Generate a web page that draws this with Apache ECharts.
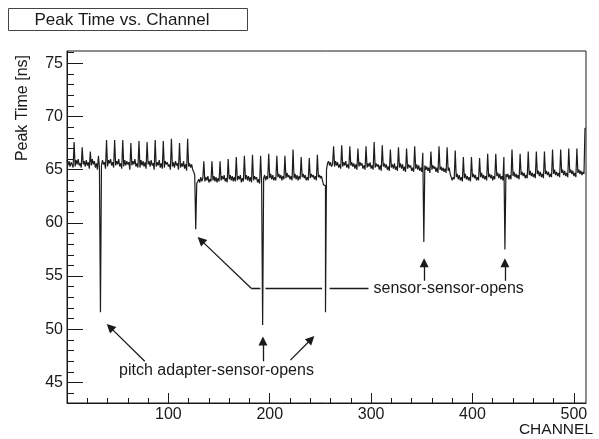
<!DOCTYPE html>
<html><head><meta charset="utf-8">
<script src="https://cdn.jsdelivr.net/npm/echarts@6/dist/echarts.min.js"></script>
<style>html,body{margin:0;padding:0;background:#fff}#c{width:599px;height:439px}</style>
</head><body><div id="c"></div>
<script>
// Peak time [ns] per channel, channels 0..511 (8 per row)
const peakTime = [
65.9,65.4,65.8,65.3,65.7,65.5,65.2,67.6,
65.3,65.9,65.5,66.0,65.4,65.6,65.2,67.1,
65.5,65.8,65.3,65.9,65.4,65.7,65.1,66.7,
65.4,66.0,65.5,65.8,65.2,65.6,65.0,66.3,
65.2,51.6,65.4,65.9,65.5,65.7,65.1,67.8,
65.3,65.9,65.6,66.0,65.4,65.7,65.2,67.8,
65.4,65.8,65.5,66.0,65.3,65.6,65.1,67.8,
65.3,65.9,65.4,65.8,65.5,65.7,65.0,67.5,
65.4,65.8,65.5,66.0,65.3,65.6,65.2,67.7,
65.2,65.9,65.4,65.8,65.3,65.7,65.1,67.6,
65.5,65.8,65.3,65.9,65.4,65.6,65.0,67.8,
65.3,65.7,65.4,65.9,65.2,65.6,65.1,67.7,
65.2,65.8,65.5,65.7,65.3,65.5,65.0,67.9,
65.3,65.7,65.2,65.8,65.4,65.6,65.0,67.5,
65.2,65.6,65.3,65.8,65.1,65.5,64.9,67.9,
65.3,65.6,65.2,65.5,65.0,64.8,64.5,59.4,
63.7,63.9,64.1,63.8,64.3,63.9,64.2,65.8,
63.9,64.3,64.0,64.4,63.8,64.1,63.9,65.8,
64.0,64.4,63.9,64.3,63.8,64.2,63.9,65.8,
64.0,64.4,64.1,64.5,63.9,64.2,63.8,66.0,
64.1,64.5,64.0,64.4,63.9,64.3,63.9,66.2,
64.0,64.4,64.1,64.5,63.8,64.2,63.9,66.3,
64.1,64.5,64.0,64.4,63.9,64.3,63.8,66.4,
64.0,64.4,64.1,64.3,63.8,64.1,63.7,66.3,
63.9,50.4,64.2,64.5,64.0,64.4,64.1,66.5,
64.2,64.6,64.1,64.5,64.0,64.3,64.0,66.3,
64.3,64.6,64.2,64.5,64.0,64.4,64.1,66.3,
64.2,64.7,64.3,64.5,64.1,64.4,64.0,66.9,
64.2,64.6,64.1,64.5,64.0,64.4,64.1,66.2,
64.3,64.6,64.2,64.5,64.0,64.3,64.0,66.1,
64.2,64.6,64.3,64.5,64.1,64.4,64.0,66.4,
64.3,64.5,64.2,64.4,64.0,63.6,63.5,51.6,
65.0,65.6,65.8,65.4,65.7,65.3,65.5,67.2,
65.3,65.8,65.4,65.7,65.2,65.5,65.1,67.3,
65.3,65.7,65.4,65.8,65.2,65.5,65.1,67.2,
65.4,65.7,65.3,65.6,65.1,65.5,65.0,67.0,
65.3,65.7,65.4,65.6,65.1,65.4,65.0,67.2,
65.2,65.6,65.3,65.7,65.1,65.4,65.0,67.6,
65.2,65.6,65.3,65.5,65.0,65.4,64.9,67.3,
65.3,65.6,65.2,65.5,65.0,65.3,64.9,66.9,
65.2,65.5,65.1,65.6,65.0,65.3,64.9,67.1,
65.2,65.6,65.1,65.5,64.9,65.3,64.8,67.0,
65.1,65.5,65.2,65.4,64.9,65.2,64.8,67.2,
65.1,65.5,65.0,65.4,64.9,65.2,64.8,66.6,
58.2,65.4,65.0,65.3,64.9,65.2,64.7,66.7,
65.0,65.4,65.1,65.3,64.8,65.2,64.7,67.2,
65.0,65.3,64.9,65.2,64.8,65.1,64.7,67.1,
64.9,65.2,64.6,64.3,64.0,64.3,64.1,66.8,
64.3,64.6,64.1,64.5,64.0,64.3,63.9,66.2,
64.2,64.6,64.1,64.4,64.0,64.3,63.9,66.2,
64.3,64.6,64.2,64.5,64.0,64.3,64.0,66.1,
64.3,64.7,64.2,64.5,64.1,64.4,64.0,66.5,
64.3,64.6,64.2,64.5,64.0,64.4,64.1,66.5,
64.4,64.7,64.2,64.6,64.1,64.4,64.0,66.2,
57.5,64.6,64.3,64.6,64.1,64.5,64.1,66.9,
64.4,64.8,64.3,64.6,64.2,64.5,64.1,66.5,
64.5,64.8,64.4,64.7,64.2,64.5,64.2,66.7,
64.5,64.9,64.4,64.7,64.3,64.6,64.2,66.7,
64.6,64.9,64.4,64.8,64.3,64.6,64.2,66.7,
64.6,64.9,64.5,64.8,64.3,64.6,64.3,66.9,
64.6,65.0,64.5,64.8,64.4,64.7,64.3,66.9,
64.7,65.0,64.5,64.9,64.4,64.7,64.3,67.0,
64.7,65.0,64.6,64.9,64.4,64.7,64.3,67.0,
64.7,65.0,64.6,64.9,64.5,64.8,64.6,68.9
];

// Axis tick values
const xLabelValues = [100, 200, 300, 400, 500];
const xMajorTicks = [0, 100, 200, 300, 400, 500];
const xMinorTicks = [20,40,60,80,120,140,160,180,220,240,260,280,320,340,360,380,420,440,460,480];
const yLabelValues = [45, 50, 55, 60, 65, 70, 75];
const yMinorTicks = [44,46,47,48,49,51,52,53,54,56,57,58,59,61,62,63,64,66,67,68,69,71,72,73,74,76];

// Texts
const titleText = 'Peak Time vs. Channel';
const xTitle = 'CHANNEL';
const yTitle = 'Peak Time [ns]';
const pitchText = 'pitch adapter-sensor-opens';
const sensorText = 'sensor-sensor-opens';

// Annotation geometry in data units [channel, ns]
const arrowLines = [
  [[76.7, 47.0], [42.4, 50.2]],
  [[193.3, 47.0], [193.3, 48.9]],
  [[220.4, 47.1], [240.9, 49.07]],
  [[181.7, 53.85], [132.1, 58.38]],
  [[352.3, 54.57], [352.3, 56.25]],
  [[432.0, 54.57], [432.0, 56.25]]
];
const plainLines = [
  [[181.7, 53.85], [190.8, 53.85]],
  [[195.8, 53.85], [251.6, 53.85]],
  [[259.1, 53.85], [297.4, 53.85]]
];
const pitchTextPos = [51.4, 46.08];
const sensorTextPos = [302.4, 53.85];

const FONT = '"Liberation Sans", Arial, Helvetica, sans-serif';
const INK = '#1a1a1a';

const histData = peakTime.map((v, i) => [i, v]);
histData.push([peakTime.length, peakTime[peakTime.length - 1]]);

const chart = echarts.init(document.getElementById('c'), null, {renderer: 'canvas'});

const axisCommonX = {type: 'value', min: 0, max: 512, position: 'bottom', splitLine: {show: false}};
const axisCommonY = {type: 'value', min: 43.07, max: 76.16, position: 'left', splitLine: {show: false}};

chart.setOption({
  animation: false,
  backgroundColor: '#fff',
  grid: {left: 67, top: 51, width: 519, height: 352, show: true, borderColor: INK, borderWidth: 1,
         containLabel: false, outerBoundsMode: 'none'},
  xAxis: [
    Object.assign({}, axisCommonX, {
      axisLine: {show: true, onZero: false, lineStyle: {color: INK, width: 1}},
      axisTick: {show: true, inside: true, length: 10, customValues: xMajorTicks, lineStyle: {color: INK, width: 1}},
      axisLabel: {show: true, customValues: xLabelValues, fontSize: 16, fontFamily: FONT, color: INK, margin: 4}
    }),
    Object.assign({}, axisCommonX, {
      axisLine: {show: false, onZero: false},
      axisTick: {show: true, inside: true, length: 5, customValues: xMinorTicks, lineStyle: {color: INK, width: 1}},
      axisLabel: {show: false}
    })
  ],
  yAxis: [
    Object.assign({}, axisCommonY, {
      axisLine: {show: true, onZero: false, lineStyle: {color: INK, width: 1}},
      axisTick: {show: true, inside: true, length: 16, customValues: yLabelValues, lineStyle: {color: INK, width: 1}},
      axisLabel: {show: true, customValues: yLabelValues, fontSize: 16, fontFamily: FONT, color: INK, margin: 4}
    }),
    Object.assign({}, axisCommonY, {
      axisLine: {show: false, onZero: false},
      axisTick: {show: true, inside: true, length: 7, customValues: yMinorTicks, lineStyle: {color: INK, width: 1}},
      axisLabel: {show: false}
    })
  ],
  series: [
    {
      type: 'line', xAxisIndex: 0, yAxisIndex: 0, data: histData, step: 'end',
      symbol: 'none', showSymbol: false, silent: true,
      lineStyle: {color: '#1c1c1c', width: 1.2}
    },
    {
      type: 'lines', coordinateSystem: 'cartesian2d', xAxisIndex: 0, yAxisIndex: 0, silent: true,
      data: arrowLines.map(c => ({coords: c})),
      symbol: ['none', 'triangle'], symbolSize: [7, 9],
      lineStyle: {color: INK, width: 1.3, opacity: 1}
    },
    {
      type: 'lines', coordinateSystem: 'cartesian2d', xAxisIndex: 0, yAxisIndex: 0, silent: true,
      data: plainLines.map(c => ({coords: c})),
      symbol: 'none',
      lineStyle: {color: INK, width: 1.3, opacity: 1}
    }
  ]
});

const pp = chart.convertToPixel({gridIndex: 0}, pitchTextPos);
const sp = chart.convertToPixel({gridIndex: 0}, sensorTextPos);

chart.setOption({
  graphic: [
    {type: 'rect', shape: {x: 8.5, y: 8.5, width: 239, height: 22},
     style: {fill: '#fff', stroke: '#444', lineWidth: 1}},
    {type: 'text', x: 122, y: 20,
     style: {text: titleText, fontSize: 17, fontFamily: FONT, fill: INK, align: 'center', verticalAlign: 'middle'}},
    {type: 'text', x: 23, y: 55, rotation: Math.PI / 2,
     style: {text: yTitle, fontSize: 16, fontFamily: FONT, fill: INK, align: 'right', verticalAlign: 'middle'}},
    {type: 'text', x: 593, y: 430,
     style: {text: xTitle, fontSize: 15.5, fontFamily: FONT, fill: INK, align: 'right', verticalAlign: 'middle'}},
    {type: 'text', x: pp[0], y: pp[1],
     style: {text: pitchText, fontSize: 16, fontFamily: FONT, fill: INK, align: 'left', verticalAlign: 'middle'}},
    {type: 'text', x: sp[0], y: sp[1],
     style: {text: sensorText, fontSize: 16, fontFamily: FONT, fill: INK, align: 'left', verticalAlign: 'middle'}}
  ]
});
</script>
</body></html>
